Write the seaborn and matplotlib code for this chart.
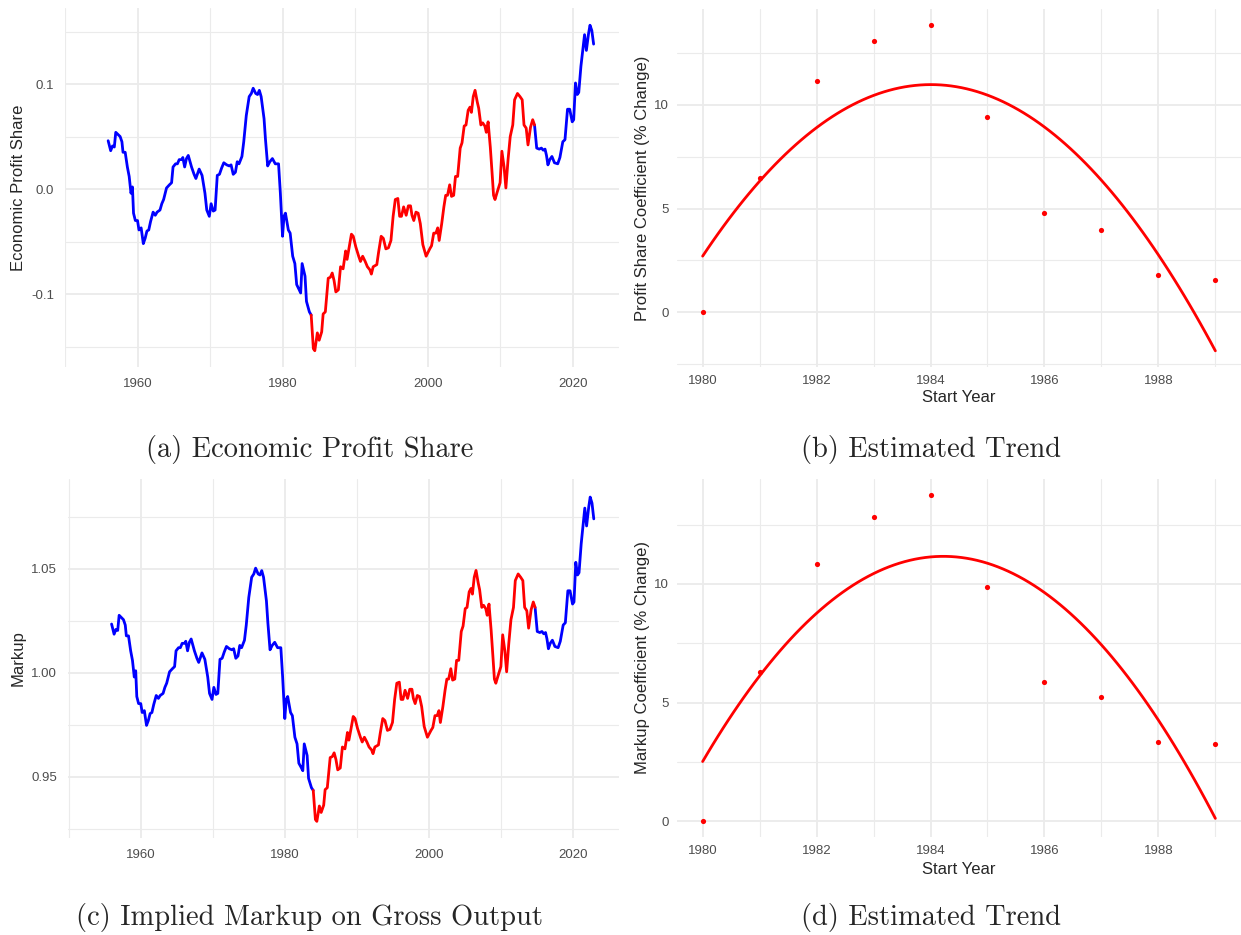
import numpy as np
import pandas as pd
import seaborn as sns
import matplotlib.pyplot as plt
from matplotlib.ticker import FixedLocator

# ---- data ----
years = [
    1955.95, 1956.3, 1956.55, 1956.8, 1957.0, 1957.6, 1957.85, 1958.0, 1958.3, 1958.6,
    1958.85, 1959.1, 1959.3, 1959.45, 1959.7, 1960.0, 1960.2, 1960.5, 1960.8, 1961.05,
    1961.3, 1961.55, 1961.8, 1962.15, 1962.45, 1962.7, 1963.1, 1963.35, 1963.6, 1964.0,
    1964.4, 1964.7, 1964.9, 1965.25, 1965.5, 1965.75, 1966.1, 1966.25, 1966.5, 1966.75,
    1967.0, 1967.45, 1967.8, 1968.05, 1968.5, 1968.9, 1969.3, 1969.55, 1969.9, 1970.15,
    1970.45, 1970.7, 1971.0, 1971.3, 1971.6, 1971.9, 1972.3, 1972.65, 1972.9, 1973.2,
    1973.5, 1973.75, 1974.0, 1974.4, 1974.65, 1975.0, 1975.4, 1975.7, 1975.95, 1976.3,
    1976.55, 1976.8, 1977.05, 1977.45, 1977.65, 1977.95, 1978.25, 1978.6, 1979.0, 1979.45,
    1979.7, 1980.0, 1980.2, 1980.4, 1980.8, 1981.05, 1981.4, 1981.7, 1981.95, 1982.3,
    1982.5, 1982.7, 1983.1, 1983.3, 1983.7, 1983.95,
    1984.25, 1984.45, 1984.8, 1985.05, 1985.4, 1985.6, 1985.9, 1986.3, 1986.6, 1986.85,
    1987.1, 1987.35, 1987.7, 1988.0, 1988.35, 1988.7, 1988.9, 1989.2, 1989.5, 1989.75,
    1990.1, 1990.5, 1990.75, 1991.05, 1991.4, 1991.7, 1992.05, 1992.25, 1992.5, 1993.0,
    1993.25, 1993.6, 1993.9, 1994.25, 1994.6, 1994.95, 1995.25, 1995.55, 1995.9, 1996.15,
    1996.4, 1996.7, 1997.05, 1997.35, 1997.65, 1997.85, 1998.1, 1998.4, 1998.7, 1999.0,
    1999.35, 1999.8, 2000.3, 2000.55, 2000.85, 2001.15, 2001.4, 2001.6, 2001.95, 2002.25,
    2002.5, 2002.75, 2003.05, 2003.3, 2003.6, 2003.85, 2004.15, 2004.5, 2004.75, 2005.05,
    2005.3, 2005.6, 2005.85, 2006.05, 2006.3, 2006.55, 2006.85, 2007.05, 2007.35, 2007.6,
    2007.9, 2008.1, 2008.35, 2008.65, 2008.9, 2009.1, 2009.3, 2009.6, 2010.0, 2010.25,
    2010.55, 2010.8, 2011.1, 2011.4, 2011.75, 2012.0, 2012.4, 2012.75, 2013.05, 2013.3,
    2013.6, 2013.85, 2014.2, 2014.5, 2014.75,
    2015.05, 2015.4, 2015.7, 2015.95, 2016.2, 2016.4, 2016.6, 2016.85, 2017.15, 2017.5,
    2017.95, 2018.25, 2018.65, 2018.95, 2019.3, 2019.6, 2019.95, 2020.15, 2020.4, 2020.65,
    2020.85, 2021.15, 2021.4, 2021.65, 2021.9, 2022.2, 2022.4, 2022.65, 2022.9,
]

profit_share = [
    0.046, 0.0365, 0.041, 0.040, 0.054, 0.050, 0.045, 0.035, 0.035, 0.021,
    0.012, -0.004, 0.002, -0.023, -0.030, -0.030, -0.039, -0.037, -0.052, -0.047,
    -0.040, -0.039, -0.031, -0.022, -0.025, -0.022, -0.020, -0.014, -0.010, 0.001,
    0.004, 0.006, 0.021, 0.024, 0.024, 0.028, 0.028, 0.030, 0.021, 0.029,
    0.032, 0.021, 0.014, 0.010, 0.019, 0.013, -0.004, -0.020, -0.026, -0.014,
    -0.021, -0.020, 0.013, 0.014, 0.020, 0.025, 0.023, 0.022, 0.023, 0.014,
    0.016, 0.026, 0.024, 0.031, 0.045, 0.070, 0.088, 0.091, 0.096, 0.091,
    0.090, 0.094, 0.088, 0.067, 0.047, 0.022, 0.026, 0.029, 0.024, 0.024,
    -0.004, -0.045, -0.026, -0.023, -0.039, -0.042, -0.064, -0.071, -0.091, -0.096,
    -0.099, -0.071, -0.083, -0.107, -0.117, -0.120,
    -0.152, -0.154, -0.137, -0.144, -0.136, -0.119, -0.117, -0.085, -0.084, -0.080,
    -0.087, -0.098, -0.096, -0.074, -0.076, -0.059, -0.067, -0.055, -0.043, -0.045,
    -0.055, -0.064, -0.069, -0.064, -0.069, -0.074, -0.077, -0.081, -0.074, -0.072,
    -0.060, -0.045, -0.047, -0.057, -0.056, -0.049, -0.026, -0.010, -0.009, -0.026,
    -0.026, -0.017, -0.025, -0.016, -0.016, -0.025, -0.030, -0.022, -0.023, -0.033,
    -0.053, -0.064, -0.057, -0.054, -0.042, -0.042, -0.037, -0.049, -0.033, -0.017,
    -0.006, -0.006, 0.004, -0.007, -0.006, 0.012, 0.012, 0.039, 0.044, 0.060,
    0.061, 0.075, 0.078, 0.073, 0.088, 0.094, 0.083, 0.077, 0.061, 0.063,
    0.060, 0.054, 0.064, 0.040, 0.015, -0.006, -0.010, -0.003, 0.006, 0.036,
    0.021, 0.001, 0.028, 0.050, 0.061, 0.085, 0.091, 0.088, 0.085, 0.061,
    0.058, 0.042, 0.059, 0.066, 0.061,
    0.039, 0.038, 0.039, 0.037, 0.038, 0.032, 0.023, 0.028, 0.031, 0.025,
    0.024, 0.030, 0.045, 0.047, 0.076, 0.076, 0.064, 0.066, 0.101, 0.090,
    0.092, 0.117, 0.132, 0.147, 0.132, 0.148, 0.156, 0.151, 0.138,
]

markup = [
    1.0235, 1.0186, 1.0209, 1.0204, 1.0277, 1.0256, 1.0230, 1.0178, 1.0178, 1.0106,
    1.0060, 0.9980, 1.0010, 0.9886, 0.9852, 0.9852, 0.9809, 0.9818, 0.9747, 0.9770,
    0.9804, 0.9809, 0.9847, 0.9891, 0.9877, 0.9891, 0.9901, 0.9930, 0.9950, 1.0005,
    1.0020, 1.0030, 1.0106, 1.0121, 1.0121, 1.0142, 1.0142, 1.0152, 1.0106, 1.0147,
    1.0163, 1.0106, 1.0070, 1.0050, 1.0096, 1.0065, 0.9980, 0.9901, 0.9872, 0.9930,
    0.9896, 0.9901, 1.0065, 1.0070, 1.0101, 1.0127, 1.0116, 1.0111, 1.0116, 1.0070,
    1.0081, 1.0132, 1.0121, 1.0157, 1.0230, 1.0363, 1.0460, 1.0476, 1.0504, 1.0476,
    1.0471, 1.0492, 1.0460, 1.0346, 1.0241, 1.0111, 1.0132, 1.0147, 1.0121, 1.0121,
    0.9980, 0.9780, 0.9872, 0.9886, 0.9809, 0.9794, 0.9690, 0.9658, 0.9565, 0.9543,
    0.9529, 0.9658, 0.9602, 0.9492, 0.9447, 0.9434,
    0.9294, 0.9285, 0.9359, 0.9328, 0.9363, 0.9438, 0.9447, 0.9592, 0.9597, 0.9615,
    0.9583, 0.9533, 0.9542, 0.9643, 0.9634, 0.9713, 0.9676, 0.9732, 0.9790, 0.9780,
    0.9732, 0.9690, 0.9667, 0.9690, 0.9667, 0.9643, 0.9629, 0.9611, 0.9643, 0.9653,
    0.9709, 0.9780, 0.9770, 0.9723, 0.9728, 0.9761, 0.9872, 0.9950, 0.9955, 0.9872,
    0.9872, 0.9916, 0.9877, 0.9921, 0.9921, 0.9877, 0.9852, 0.9891, 0.9886, 0.9838,
    0.9742, 0.9690, 0.9723, 0.9737, 0.9794, 0.9794, 0.9818, 0.9761, 0.9838, 0.9916,
    0.9970, 0.9970, 1.0020, 0.9965, 0.9970, 1.0060, 1.0060, 1.0199, 1.0225, 1.0309,
    1.0315, 1.0390, 1.0406, 1.0379, 1.0460, 1.0493, 1.0433, 1.0400, 1.0315, 1.0325,
    1.0309, 1.0277, 1.0331, 1.0204, 1.0076, 0.9970, 0.9950, 0.9985, 1.0030, 1.0183,
    1.0106, 1.0005, 1.0142, 1.0256, 1.0315, 1.0444, 1.0476, 1.0460, 1.0444, 1.0315,
    1.0299, 1.0215, 1.0304, 1.0341, 1.0315,
    1.0199, 1.0194, 1.0199, 1.0188, 1.0194, 1.0163, 1.0116, 1.0142, 1.0157, 1.0127,
    1.0121, 1.0152, 1.0230, 1.0241, 1.0395, 1.0395, 1.0331, 1.0341, 1.0532, 1.0471,
    1.0482, 1.0621, 1.0707, 1.0793, 1.0707, 1.0799, 1.0846, 1.0817, 1.0741,
]

# red window (start/end of the highlighted period)
red_start, red_end = 1983.95, 2014.75

start_years = [1980, 1981, 1982, 1983, 1984, 1985, 1986, 1987, 1988, 1989]
profit_coef = [0.0, 6.45, 11.14, 13.05, 13.85, 9.4, 4.8, 3.96, 1.8, 1.56]
markup_coef = [0.0, 6.28, 10.86, 12.82, 13.74, 9.89, 5.86, 5.24, 3.36, 3.26]

captions = ["(a) Economic Profit Share", "(b) Estimated Trend",
            "(c) Implied Markup on Gross Output", "(d) Estimated Trend"]


def split_segments(xs, ys):
    # overlapping boundary points so the coloured pieces join up
    rows = []
    parts = [(-np.inf, red_start, "blue"), (red_start, red_end, "red"), (red_end, np.inf, "blue")]
    for seg, (lo, hi, col) in enumerate(parts):
        for x, y in zip(xs, ys):
            if lo <= x <= hi:
                rows.append((x, y, col, seg))
    return pd.DataFrame(rows, columns=["year", "value", "period", "segment"])


sns.set_theme(style="white")
plt.rcParams["font.family"] = ["Liberation Sans", "DejaVu Sans"]

W, H = 1241, 935
fig = plt.figure(figsize=(W / 100, H / 100), dpi=100)


def px_axes(l, t, r, b):
    return fig.add_axes([l / W, 1 - b / H, (r - l) / W, (b - t) / H])


def style(ax, xmaj, xmin, ymaj, ymin, ylabels=None, pad=6):
    ax.xaxis.set_major_locator(FixedLocator(xmaj))
    ax.xaxis.set_minor_locator(FixedLocator(xmin))
    ax.yaxis.set_minor_locator(FixedLocator(ymin))
    if ylabels is None:
        ax.set_yticks(ymaj)
    else:
        ax.set_yticks(ymaj, labels=ylabels)
    ax.grid(which="major", color="#ebebeb", lw=1.3)
    ax.grid(which="minor", color="#ebebeb", lw=0.8)
    ax.set_axisbelow(True)
    for s in ax.spines.values():
        s.set_visible(False)
    ax.tick_params(which="both", length=0, labelsize=9.5, labelcolor="#4d4d4d", pad=pad)
    ax.set_xlabel("")
    ax.set_ylabel("")


pal = {"blue": "#0000ff", "red": "#ff0000"}

# (a) profit share
ax_a = px_axes(65, 8, 619, 367)
sns.lineplot(data=split_segments(years, profit_share), x="year", y="value", hue="period",
             units="segment", estimator=None, palette=pal, legend=False, lw=2, ax=ax_a)
ax_a.set_xlim(1950, 2026.4)
ax_a.set_ylim(-0.1695, 0.1724)
style(ax_a, [1960, 1980, 2000, 2020], [1950, 1970, 1990, 2010],
      [-0.1, 0.0, 0.1], [-0.15, -0.05, 0.05, 0.15], ["-0.1", "0.0", "0.1"], pad=8)

# (c) markup
ax_c = px_axes(68, 479, 619, 838)
sns.lineplot(data=split_segments(years, markup), x="year", y="value", hue="period",
             units="segment", estimator=None, palette=pal, legend=False, lw=2, ax=ax_c)
ax_c.set_xlim(1949.9, 2026.4)
ax_c.set_ylim(0.9205, 1.0933)
style(ax_c, [1960, 1980, 2000, 2020], [1950, 1970, 1990, 2010],
      [0.95, 1.00, 1.05], [0.925, 0.975, 1.025, 1.075], ["0.95", "1.00", "1.05"], pad=8)

# (b) and (d) trend with quadratic fit
ax_b = px_axes(677, 9, 1241, 367)
sns.regplot(x=start_years, y=profit_coef, order=2, ci=None, color="#ff0000",
            scatter_kws={"s": 14, "linewidths": 0, "alpha": 1}, line_kws={"lw": 2}, ax=ax_b)
ax_b.set_xlim(1979.55, 1989.45)
ax_b.set_ylim(-2.63, 14.61)
style(ax_b, [1980, 1982, 1984, 1986, 1988], [1981, 1983, 1985, 1987, 1989],
      [0, 5, 10], [-2.5, 2.5, 7.5, 12.5])

ax_d = px_axes(677, 479, 1241, 837)
sns.regplot(x=start_years, y=markup_coef, order=2, ci=None, color="#ff0000",
            scatter_kws={"s": 14, "linewidths": 0, "alpha": 1}, line_kws={"lw": 2}, ax=ax_d)
ax_d.set_xlim(1979.55, 1989.45)
ax_d.set_ylim(-0.66, 14.42)
style(ax_d, [1980, 1982, 1984, 1986, 1988], [1981, 1983, 1985, 1987, 1989],
      [0, 5, 10], [2.5, 7.5, 12.5])


def ftext(x, y, s, **kw):
    fig.text(x / W, 1 - y / H, s, ha="center", va="center", **kw)


ftext(18.5, 188, "Economic Profit Share", rotation=90, fontsize=12)
ftext(18.5, 658, "Markup", rotation=90, fontsize=12)
ftext(643, 188, "Profit Share Coefficient (% Change)", rotation=90, fontsize=12)
ftext(643, 658, "Markup Coefficient (% Change)", rotation=90, fontsize=12)
ftext(959, 398, "Start Year", fontsize=12)
ftext(959, 870, "Start Year", fontsize=12)

for (cx, cy), cap in zip([(310, 450), (931, 450), (309, 918), (931, 918)], captions):
    ftext(cx, cy, cap, fontsize=20.5, family="cmr10")

fig.savefig("out.png", dpi=100)
